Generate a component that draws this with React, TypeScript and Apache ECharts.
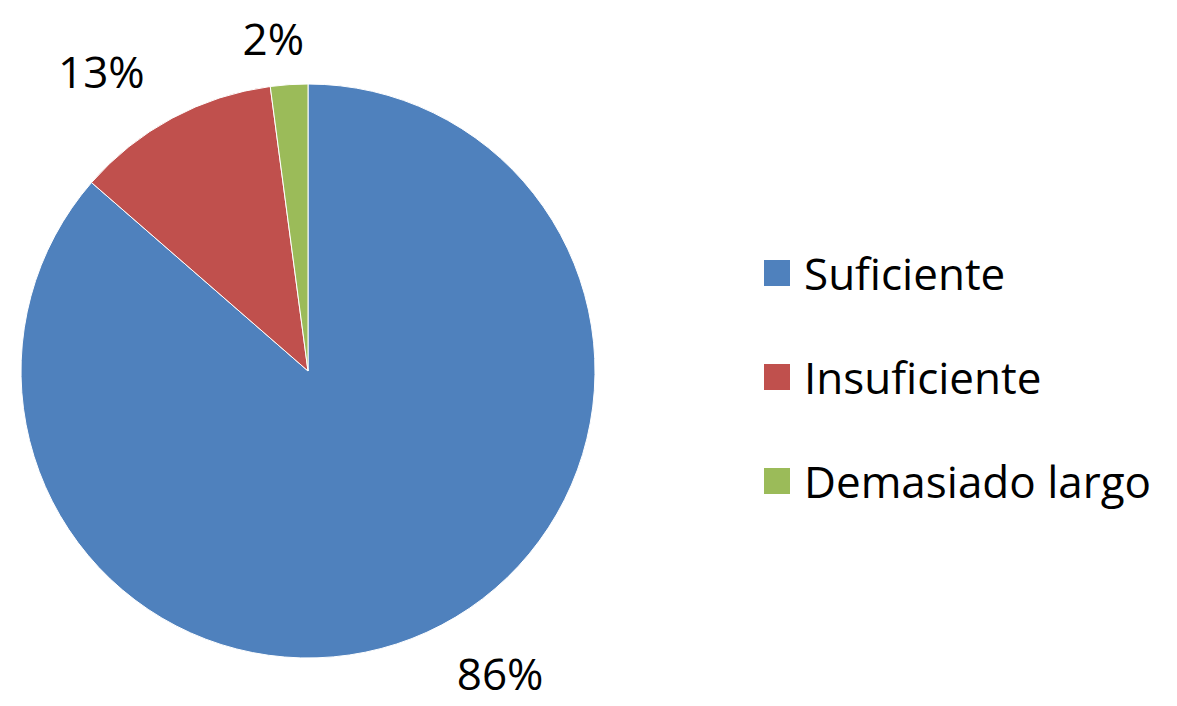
import React, { useEffect, useRef } from "react";
import * as echarts from "echarts";

const categories = ["Suficiente", "Insuficiente", "Demasiado largo"];
const values = [86.4, 11.5, 2.1];
const percentLabels = ["86%", "13%", "2%"];
const colors = ["#4F81BD", "#C0504D", "#9BBB59"];
const labelShift = [
  [0, -14],
  [6, 6],
  [24, 13],
];

export default function App() {
  const ref = useRef<HTMLDivElement>(null);
  useEffect(() => {
    document.body.style.margin = "0";
    const chart = echarts.init(ref.current!, null, { renderer: "svg" });
    const font = "'Open Sans', sans-serif";
    chart.setOption({
      animation: false,
      backgroundColor: "#ffffff",
      legend: {
        orient: "vertical",
        left: 762,
        top: 251,
        padding: 0,
        icon: "rect",
        itemWidth: 28,
        itemHeight: 28,
        itemGap: 60,
        data: categories,
        textStyle: {
          fontFamily: font,
          fontSize: 44,
          color: "#000",
          lineHeight: 40,
          padding: [0, 0, 0, 8],
        },
      },
      series: [
        {
          type: "pie",
          center: [308, 371],
          radius: 287,
          startAngle: 90,
          clockwise: true,
          avoidLabelOverlap: false,
          itemStyle: { borderColor: "#ffffff", borderWidth: 1 },
          label: {
            show: true,
            position: "outside",
            fontFamily: font,
            fontSize: 44,
            lineHeight: 40,
            color: "#000",
            formatter: (p: any) => percentLabels[p.dataIndex],
          },
          labelLine: { show: false, length: 60, length2: 0 },
          labelLayout: (p: any) => ({
            dx: labelShift[p.dataIndex][0],
            dy: labelShift[p.dataIndex][1],
          }),
          data: categories.map((name, i) => ({
            name,
            value: values[i],
            itemStyle: { color: colors[i] },
          })),
        },
      ],
    });
    return () => chart.dispose();
  }, []);
  return <div ref={ref} style={{ width: 1177, height: 706 }} />;
}
